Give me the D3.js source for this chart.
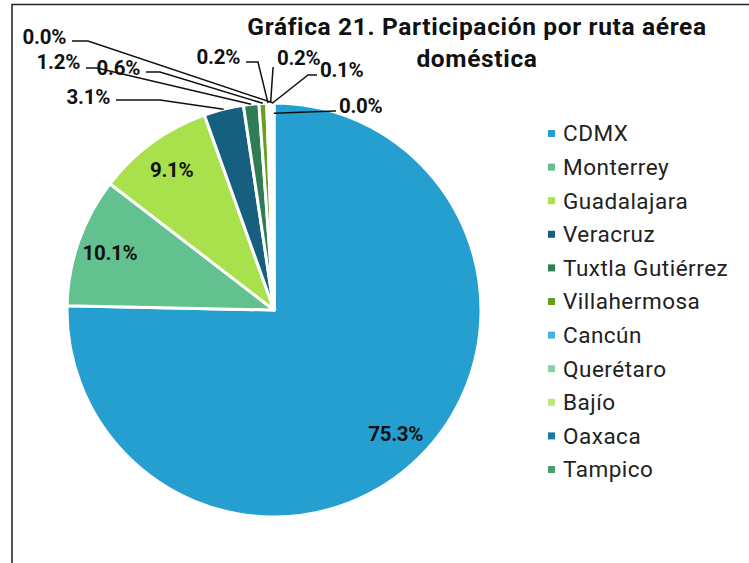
<!DOCTYPE html>
<html>
<head>
<meta charset="utf-8">
<script src="https://cdn.jsdelivr.net/npm/d3@7"></script>
<style>
  html, body { margin: 0; padding: 0; background: #fff; }
  svg { display: block; font-family: Roboto, "Noto Sans", sans-serif; }
</style>
</head>
<body>
<svg id="chart" width="749" height="563"></svg>
<script>
// ---- data ----
const categories = ["CDMX", "Monterrey", "Guadalajara", "Veracruz", "Tuxtla Gutiérrez",
  "Villahermosa", "Cancún", "Querétaro", "Bajío", "Oaxaca", "Tampico"];
const shares = [75.3, 10.1, 9.1, 3.1, 1.2, 0.6, 0.2, 0.2, 0.1, 0.03, 0.03];
const shareLabels = ["75.3%", "10.1%", "9.1%", "3.1%", "1.2%", "0.6%", "0.2%", "0.2%", "0.1%", "0.0%", "0.0%"];
const colors = ["#259fd0", "#63c08f", "#a8e14b", "#175f7e", "#2e7d55", "#6a9e1f",
  "#45b5e0", "#88d1a8", "#bfe67a", "#1a7aa0", "#45a06f"];
const titleLines = ["Gráfica 21. Participación por ruta aérea", "doméstica"];

// ---- layout (positions for outside labels of the small slices) ----
// [label x, label baseline y, elbow x, elbow y, anchor radius factor, text-anchor]
const outsideLayout = {
  3: [110, 104, 160, 100, 1.0, "end"],
  4: [80, 69, 97, 68, 1.0, "end"],
  5: [140, 75, 160, 72, 1.0, "end"],
  6: [240, 64, 258, 62, 1.0, "end"],
  7: [277, 65, 273, 68, 1.0, "start"],
  8: [320, 77, 308, 75, 1.0, "start"],
  9: [66, 44, 88, 41, 1.0, "end"],
  10: [339, 113, 334, 111, 0.95, "start"]
};

const svg = d3.select("#chart");
const W = 749, H = 563;

// frame
svg.append("path")
  .attr("d", `M12,${H + 2} L12,4.5 L${W + 2},4.5`)
  .attr("fill", "none").attr("stroke", "#222").attr("stroke-width", 1.5);

const cx = 274, cy = 310, R = 207;
const data = categories.map((c, i) => ({ name: c, value: shares[i], label: shareLabels[i], color: colors[i], idx: i }));

const pie = d3.pie().value(d => d.value).sort(null);
const arcs = pie(data);
const arc = d3.arc().innerRadius(0).outerRadius(R);
const labelArc = d3.arc().innerRadius(R * 0.84).outerRadius(R * 0.84);

const g = svg.append("g").attr("transform", `translate(${cx},${cy})`);
g.selectAll("path.slice").data(arcs).join("path")
  .attr("class", "slice")
  .attr("d", arc)
  .attr("fill", d => d.data.color)
  .attr("stroke", "#fff")
  .attr("stroke-width", 3)
  .attr("stroke-linejoin", "round");

const LBL = 20.5;
// inside labels
g.selectAll("text.inlabel").data(arcs.filter(d => d.data.idx < 3)).join("text")
  .attr("class", "inlabel")
  .attr("transform", d => `translate(${labelArc.centroid(d)})`)
  .attr("text-anchor", "middle")
  .attr("dy", "0.35em")
  .attr("font-size", LBL)
  .attr("font-weight", 700)
  .attr("letter-spacing", -0.3)
  .attr("fill", "#111")
  .text(d => d.data.label);

// outside labels with leader lines
const outer = arcs.filter(d => outsideLayout[d.data.idx]);
outer.forEach(d => {
  const [lx, ly, ex, ey, rf, anchor] = outsideLayout[d.data.idx];
  const a = (d.startAngle + d.endAngle) / 2;
  const px = cx + Math.sin(a) * R * rf;
  const py = cy - Math.cos(a) * R * rf;
  const startX = anchor === "end" ? lx + 6 : lx - 3;
  svg.append("path")
    .attr("d", d3.line()([[startX, ey], [ex, ey], [px, py]]))
    .attr("fill", "none").attr("stroke", "#111").attr("stroke-width", 1.5);
  svg.append("text")
    .attr("x", lx).attr("y", ly)
    .attr("text-anchor", anchor)
    .attr("font-size", LBL)
    .attr("font-weight", 700)
    .attr("letter-spacing", -0.3)
    .attr("fill", "#111")
    .text(d.data.label);
});

// title
svg.selectAll("text.title").data(titleLines).join("text")
  .attr("class", "title")
  .attr("x", 477).attr("y", (d, i) => 35 + i * 32)
  .attr("text-anchor", "middle")
  .attr("font-size", 24.5)
  .attr("font-weight", 700)
  .attr("letter-spacing", 0.65)
  .attr("fill", "#111")
  .text(d => d);

// legend
const legend = svg.append("g").attr("transform", "translate(548,133.5)");
const rows = legend.selectAll("g").data(data).join("g")
  .attr("transform", (d, i) => `translate(0,${i * 33.6})`);
rows.append("rect").attr("x", 0).attr("y", -3.5).attr("width", 7).attr("height", 7)
  .attr("fill", d => d.color);
rows.append("text").attr("x", 15).attr("y", 0).attr("dy", "0.35em")
  .attr("font-size", 22.5).attr("fill", "#222")
  .attr("letter-spacing", 0.5)
  .text(d => d.name);
</script>
</body>
</html>
